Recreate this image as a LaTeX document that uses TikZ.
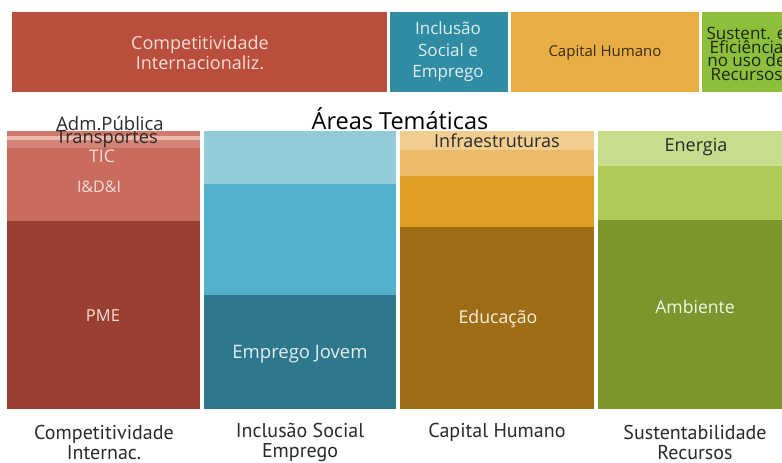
\documentclass[tikz,border=0pt]{standalone}
\usepackage{fontspec}
\setmainfont{Open Sans}
\newfontfamily\narrowfont{PT Sans}
\definecolor{rTop}{HTML}{B94E3D}
\definecolor{bTop}{HTML}{2F8CA3}
\definecolor{oTop}{HTML}{E8AE45}
\definecolor{gTop}{HTML}{8DBE3C}
\definecolor{rA}{HTML}{D07A6B}
\definecolor{rB}{HTML}{EBB8AD}
\definecolor{rC}{HTML}{D48476}
\definecolor{rD}{HTML}{C96B5D}
\definecolor{rE}{HTML}{9A3F32}
\definecolor{bA}{HTML}{92CAD8}
\definecolor{bB}{HTML}{52B0CA}
\definecolor{bC}{HTML}{2E788D}
\definecolor{oA}{HTML}{F1CE8F}
\definecolor{oB}{HTML}{EAB96A}
\definecolor{oC}{HTML}{DE9E24}
\definecolor{oD}{HTML}{9E6D16}
\definecolor{gA}{HTML}{C5DD8C}
\definecolor{gB}{HTML}{AFCB55}
\definecolor{gC}{HTML}{7A962C}
\definecolor{lightT}{HTML}{F6DDD5}
\definecolor{darkT}{HTML}{2A2A2A}
\tikzset{
  lbl/.style={inner sep=0pt, align=center, font=\fontsize{18}{18}\selectfont},
  bot/.style={inner sep=0pt, align=center, font=\narrowfont\fontsize{20}{20}\selectfont, text=darkT},
}
\begin{document}
\begin{tikzpicture}[x=1pt,y=-1pt]
\useasboundingbox (0,0) rectangle (782,463);
\clip (0,0) rectangle (782,463);
\fill[white] (0,0) rectangle (782,463);
% top boxes
\fill[rTop] (12,12) rectangle (387,92);
\fill[bTop] (390,12) rectangle (508,92);
\fill[oTop] (511,12) rectangle (699,92);
\fill[gTop] (702,12) rectangle (800,92);
\node[lbl, text=lightT, font=\fontsize{18}{20}\selectfont] (t1) at (200,53) {Competitividade\\Internacionaliz.};
\node[lbl, text=white!85!bTop, font=\fontsize{17}{21.5}\selectfont] (t2) at (448,52) {Inclusão\\Social e\\Emprego};
\node[lbl, text=black!75!oTop, font=\fontsize{15}{15}\selectfont] (t3) at (605,53) {Capital Humano};
\node[inner sep=0pt, align=center, text=black!80!gTop, font=\fontsize{17}{13.5}\selectfont] (t4) at (746.5,54) {Sustent. e\\Eficiência\\no uso de\\Recursos};
% title
\node[inner sep=0pt, font=\fontsize{23.5}{24}\selectfont, text=black] (title) at (400,119) {Áreas Temáticas};
% column 1
\fill[rA] (7,131) rectangle (200,136);
\fill[rB] (7,136) rectangle (200,140);
\fill[rC] (7,140) rectangle (200,148);
\fill[rD] (7,148) rectangle (200,221);
\fill[rE] (7,221) rectangle (200,409);
% column 2
\fill[bA] (204,131) rectangle (396,184);
\fill[bB] (204,184) rectangle (396,295);
\fill[bC] (204,295) rectangle (396,409);
% column 3
\fill[oA] (400,131) rectangle (594,150);
\fill[oB] (400,150) rectangle (594,176);
\fill[oC] (400,176) rectangle (594,227);
\fill[oD] (400,227) rectangle (594,409);
% column 4
\fill[gA] (598,131) rectangle (782,166);
\fill[gB] (598,166) rectangle (782,220);
\fill[gC] (598,220) rectangle (782,409);
% column labels
\node[lbl, text=darkT, font=\fontsize{18.5}{18}\selectfont] (adm) at (110,124) {Adm.Pública};
\node[lbl, text=darkT, font=\fontsize{18.3}{18}\selectfont] (trans) at (107,139) {Transportes};
\node[lbl, text=lightT, font=\fontsize{17.5}{17}\selectfont] (tic) at (102,156) {TIC};
\node[lbl, text=lightT, font=\fontsize{16}{16}\selectfont] (idi) at (99,187) {I\&D\&I};
\node[lbl, text=lightT, font=\fontsize{16.5}{17}\selectfont] (pme) at (103,316) {PME};
\node[lbl, text=white!85!bTop, font=\fontsize{18.5}{18}\selectfont] (ej) at (300,354) {Emprego Jovem};
\node[lbl, text=darkT] (infra) at (497,141) {Infraestruturas};
\node[lbl, text=darkT] (en) at (696,147) {Energia};
\node[lbl, text=white!85!oC, font=\fontsize{17.7}{18}\selectfont] (edu) at (498,319) {Educação};
\node[lbl, text=white!85!gB, font=\fontsize{17.6}{18}\selectfont] (amb) at (695,307) {Ambiente};
% bottom labels
\node[bot] (b1) at (104,442) {Competitividade\\Internac.};
\node[bot] (b2) at (300,442) {Inclusão Social\\Emprego};
\node[bot] (b3) at (497,432) {Capital Humano};
\node[bot] (b4) at (695,442) {Sustentabilidade\\Recursos};
\end{tikzpicture}
\end{document}
